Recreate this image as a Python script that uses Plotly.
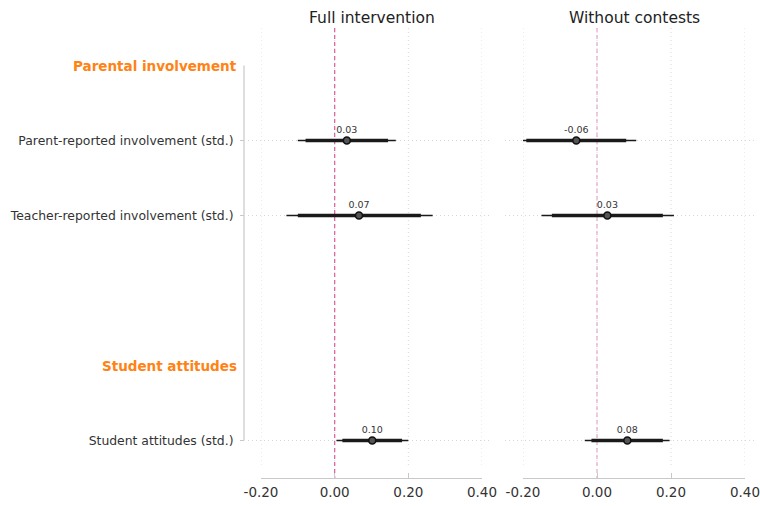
import plotly.graph_objects as go

# ---- data ----
panels = ["Full intervention", "Without contests"]
row_labels = ["Parent-reported involvement (std.)",
              "Teacher-reported involvement (std.)",
              "Student attitudes (std.)"]
row_pos = [1, 2, 5]
group_labels = ["Parental involvement", "Student attitudes"]
group_pos = [0, 4]

est_full = [0.033, 0.066, 0.102]
lo95_full = [-0.100, -0.131, 0.005]
hi95_full = [0.166, 0.266, 0.200]
lo90_full = [-0.079, -0.100, 0.021]
hi90_full = [0.145, 0.234, 0.183]
lab_full = ["0.03", "0.07", "0.10"]

est_nc = [-0.056, 0.028, 0.082]
lo95_nc = [-0.218, -0.150, -0.033]
hi95_nc = [0.106, 0.208, 0.196]
lo90_nc = [-0.191, -0.122, -0.015]
hi90_nc = [0.079, 0.178, 0.178]
lab_nc = ["-0.06", "0.03", "0.08"]

xticks = [-0.2, 0.0, 0.2, 0.4]
xticktext = ["-0.20", "0.00", "0.20", "0.40"]

FONT = "DejaVu Sans"
W, H = 760, 506

fig = go.Figure()


def segs(lo, hi, ys):
    xs, yy = [], []
    for a, b, y in zip(lo, hi, ys):
        xs += [a, b, None]
        yy += [y, y, None]
    return xs, yy


series = [
    (est_full, lo95_full, hi95_full, lo90_full, hi90_full, lab_full, "x", "y"),
    (est_nc, lo95_nc, hi95_nc, lo90_nc, hi90_nc, lab_nc, "x2", "y2"),
]

zero_colors = ["#d8699f", "#e9aecd"]

for i, (est, l95, h95, l90, h90, lab, xa, ya) in enumerate(series):
    fig.add_trace(go.Scatter(x=[0, 0], y=[-0.5, 5.5], mode="lines",
                             line=dict(color=zero_colors[i], width=1.3, dash="4px,3px"),
                             xaxis=xa, yaxis=ya, showlegend=False, hoverinfo="skip"))
    xs, yy = segs(l95, h95, row_pos)
    fig.add_trace(go.Scatter(x=xs, y=yy, mode="lines",
                             line=dict(color="#1a1a1a", width=1.4),
                             xaxis=xa, yaxis=ya, showlegend=False))
    xs, yy = segs(l90, h90, row_pos)
    fig.add_trace(go.Scatter(x=xs, y=yy, mode="lines",
                             line=dict(color="#1a1a1a", width=3.6),
                             xaxis=xa, yaxis=ya, showlegend=False))
    fig.add_trace(go.Scatter(x=est, y=row_pos, mode="markers+text",
                             text=lab, textposition="top center",
                             textfont=dict(family=FONT, size=9.5, color="#333333"),
                             marker=dict(symbol="circle", size=7, color="#555555",
                                         line=dict(color="#111111", width=1.6)),
                             xaxis=xa, yaxis=ya, showlegend=False))

xdom1 = [261 / W, 482 / W]
xdom2 = [523 / W, 745 / W]

xaxis_common = dict(range=[-0.2, 0.4], tickvals=xticks, ticktext=xticktext,
                    showgrid=False,
                    zeroline=False, showline=True, linecolor="#c8c8c8", linewidth=1.2,
                    ticks="inside", ticklen=5, tickcolor="#c8c8c8", tickwidth=1.2,
                    tickfont=dict(family=FONT, size=13.5, color="#333333"),
                    ticklabeloverflow="allow", ticklabelstandoff=2,
                    automargin=False, fixedrange=True)

fig.update_layout(
    width=W, height=H,
    margin=dict(l=0, r=0, t=28, b=28, autoexpand=False),
    paper_bgcolor="white", plot_bgcolor="white",
    xaxis=dict(domain=xdom1, anchor="y", **xaxis_common),
    xaxis2=dict(domain=xdom2, anchor="y2", **xaxis_common),
    yaxis=dict(range=[5.5, -0.5], anchor="free", position=244 / W,
               tickvals=row_pos, ticktext=row_labels,
               ticks="outside", ticklen=4, tickcolor="#c8c8c8", tickwidth=1,
               ticklabelstandoff=4,
               showline=False, showgrid=False, zeroline=False, automargin=False,
               tickfont=dict(family=FONT, size=12.4, color="#333333")),
    yaxis2=dict(range=[5.5, -0.5], anchor="x2", matches="y", automargin=False,
                showticklabels=False, ticks="", showline=False,
                showgrid=False, zeroline=False),
    showlegend=False,
)

# vertical dotted grid lines
for xr, yr in [("x", "y"), ("x2", "y2")]:
    for xv in xticks:
        fig.add_shape(type="line", xref=xr, yref=yr, x0=xv, x1=xv, y0=-0.5, y1=5.35,
                      line=dict(color="#d8d8d8", width=1, dash="1px,3px"), layer="below")

# y-axis line
fig.add_shape(type="line", xref="paper", yref="y", x0=244 / W, x1=244 / W,
              y0=0, y1=5, line=dict(color="#c8c8c8", width=1.2))

# horizontal dotted grid lines at rows
for y in row_pos:
    for (a, b) in [(248 / W, 490 / W), (505 / W, 757 / W)]:
        fig.add_shape(type="line", xref="paper", yref="y", x0=a, x1=b, y0=y, y1=y,
                      line=dict(color="#d6d6d6", width=1, dash="1px,3px"), layer="below")

# group headers
for g, y in zip(group_labels, group_pos):
    fig.add_annotation(text="<b>" + g + "</b>", xref="paper", yref="y",
                       x=239 / W, y=y, xanchor="right", yanchor="middle",
                       showarrow=False,
                       font=dict(family=FONT, size=13.5, color="#ff8214"))

# panel titles
for t, dom in zip(panels, [xdom1, xdom2]):
    fig.add_annotation(text=t, xref="paper", yref="paper",
                       x=(dom[0] + dom[1]) / 2, y=1 + 10 / 450,
                       xanchor="center", yanchor="middle", showarrow=False,
                       font=dict(family=FONT, size=15.5, color="#222222"))

fig.write_html("out.html")
